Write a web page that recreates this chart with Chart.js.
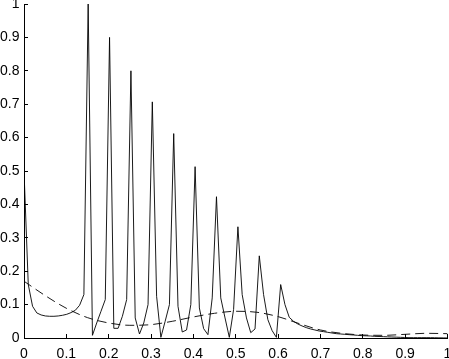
<!DOCTYPE html>
<html>
<head>
<meta charset="utf-8">
<script src="https://cdn.jsdelivr.net/npm/chart.js@4/dist/chart.umd.min.js"></script>
<style>
  html, body { margin: 0; padding: 0; background: #fff; }
  #wrap { width: 449px; height: 359px; position: relative; }
</style>
</head>
<body>
<div id="wrap"><canvas id="c"></canvas></div>
<script>
// Solid curve: sample positions and values
const solidX = [
  0.0000, 0.0101, 0.0202, 0.0303, 0.0404, 0.0505, 0.0606, 0.0707, 0.0808, 0.0909,
  0.1010, 0.1111, 0.1212, 0.1313, 0.1414, 0.1515, 0.1616, 0.1717, 0.1818, 0.1919,
  0.2020, 0.2121, 0.2222, 0.2323, 0.2424, 0.2525, 0.2626, 0.2727, 0.2828, 0.2929,
  0.3030, 0.3131, 0.3232, 0.3333, 0.3434, 0.3535, 0.3636, 0.3737, 0.3838, 0.3939,
  0.4040, 0.4141, 0.4242, 0.4343, 0.4444, 0.4545, 0.4646, 0.4747, 0.4848, 0.4949,
  0.5051, 0.5152, 0.5253, 0.5354, 0.5455, 0.5556, 0.5657, 0.5758, 0.5859, 0.5960,
  0.6061, 0.6162, 0.6263, 0.6364, 0.6465, 0.6566, 0.6667, 0.6768, 0.6869, 0.6970,
  0.7071, 0.7172, 0.7273, 0.7374, 0.7475, 0.7576, 0.7677, 0.7778, 0.7879, 0.7980,
  0.8081, 0.8182, 0.8283, 0.8384, 0.8485, 0.8586, 0.8687, 0.8788, 0.8889, 0.8990,
  0.9091, 0.9192, 0.9293, 0.9394, 0.9495, 0.9596, 0.9697, 0.9798, 0.9899, 1.0000
];
const solidY = [
  0.500, 0.160, 0.095, 0.075, 0.069, 0.066, 0.065, 0.065, 0.066, 0.068,
  0.071, 0.076, 0.083, 0.098, 0.130, 1.000, 0.008, 0.045, 0.080, 0.115,
  0.900, 0.029, 0.029, 0.065, 0.115, 0.800, 0.060, 0.012, 0.045, 0.100,
  0.707, 0.125, 0.002, 0.050, 0.100, 0.612, 0.095, 0.018, 0.024, 0.100,
  0.513, 0.090, 0.028, 0.010, 0.120, 0.423, 0.120, 0.060, 0.002, 0.085,
  0.333, 0.130, 0.060, 0.016, 0.027, 0.246, 0.130, 0.055, 0.022, 0.002,
  0.160, 0.100, 0.062, 0.050, 0.042, 0.036, 0.031, 0.027, 0.024, 0.021,
  0.019, 0.017, 0.015, 0.013, 0.012, 0.011, 0.010, 0.009, 0.008, 0.007,
  0.0065, 0.006, 0.005, 0.0045, 0.004, 0.0035, 0.003, 0.0025, 0.002, 0.0015,
  0.001, 0.001, 0.001, 0.001, 0.001, 0.001, 0.0008, 0.0005, 0.0003, 0.000
];
// Dashed curve
const dashedX = [0, 0.05, 0.1, 0.15, 0.2, 0.25, 0.3, 0.35, 0.4, 0.45, 0.5,
                 0.55, 0.6, 0.65, 0.7, 0.75, 0.8, 0.85, 0.9, 0.95, 1.0];
const dashedY = [0.170, 0.127, 0.089, 0.061, 0.045, 0.038, 0.040, 0.050, 0.063, 0.074, 0.080,
                 0.077, 0.064, 0.043, 0.024, 0.014, 0.009, 0.008, 0.011, 0.014, 0.013];
// Tick labels
const xTickValues = [0, 0.1, 0.2, 0.3, 0.4, 0.5, 0.6, 0.7, 0.8, 0.9, 1];
const yTickValues = [0, 0.1, 0.2, 0.3, 0.4, 0.5, 0.6, 0.7, 0.8, 0.9, 1];

const toPts = (xs, ys) => xs.map((x, i) => ({ x: x, y: ys[i] }));

const FONT = { family: '"Liberation Sans", Arial, Helvetica, sans-serif', size: 14 };

new Chart(document.getElementById('c'), {
  type: 'line',
  data: {
    datasets: [
      {
        data: toPts(solidX, solidY),
        borderColor: '#000',
        borderWidth: 0.9,
        pointRadius: 0,
        tension: 0,
        fill: false
      },
      {
        data: toPts(dashedX, dashedY),
        borderColor: '#000',
        borderWidth: 0.9,
        borderDash: [9, 5],
        pointRadius: 0,
        cubicInterpolationMode: 'monotone',
        fill: false
      }
    ]
  },
  options: {
    responsive: true,
    maintainAspectRatio: false,
    animation: false,
    events: [],
    layout: { padding: { top: 4, right: 1.5, left: 0, bottom: 0 } },
    plugins: { legend: { display: false }, tooltip: { enabled: false } },
    scales: {
      x: {
        type: 'linear',
        min: 0, max: 1,
        afterBuildTicks: s => { s.ticks = xTickValues.map(v => ({ value: v })); },
        afterFit: s => { s.height = 21; s.paddingLeft = 0; s.paddingRight = 0; },
        grid: { drawOnChartArea: false, tickLength: -4, color: '#000', lineWidth: 1 },
        border: { color: '#000', width: 1 },
        ticks: {
          color: '#000', font: FONT, padding: 11.5, maxRotation: 0, autoSkip: false,
          callback: v => String(+v.toFixed(1))
        }
      },
      y: {
        type: 'linear',
        min: 0, max: 1,
        afterBuildTicks: s => { s.ticks = yTickValues.map(v => ({ value: v })); },
        afterFit: s => { s.width = 24; s.paddingTop = 0; s.paddingBottom = 0; },
        grid: { drawOnChartArea: false, tickLength: -4, color: '#000', lineWidth: 1 },
        border: { color: '#000', width: 1 },
        ticks: {
          color: '#000', font: FONT, padding: 8.5, autoSkip: false,
          callback: v => String(+v.toFixed(1))
        }
      }
    }
  }
});
</script>
</body>
</html>
